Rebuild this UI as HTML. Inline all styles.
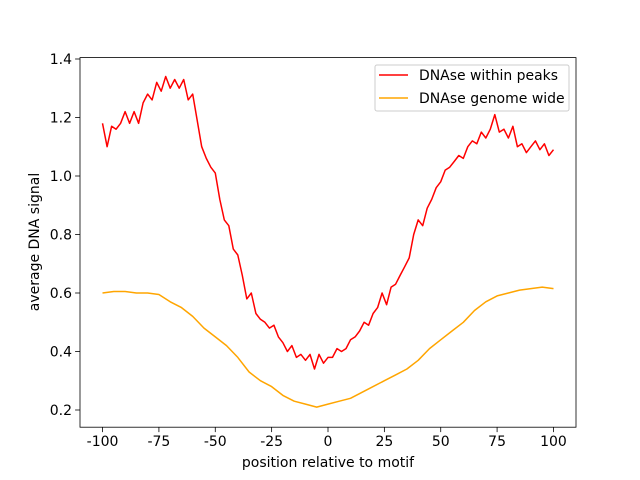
<!DOCTYPE html>
<html><head><meta charset="utf-8"><style>body{margin:0;background:#fff}svg{display:block;font-family:"DejaVu Sans","Liberation Sans",sans-serif}</style></head>
<body>
<svg id="chart" width="640" height="480" xmlns="http://www.w3.org/2000/svg"></svg>
<script>
const redX = [];for(let i=-100;i<=100;i+=2)redX.push(i);
const redValues=[1.18,1.10,1.17,1.16,1.18,1.22,1.18,1.22,1.18,1.25,1.28,1.26,1.32,1.29,1.34,1.30,1.33,1.30,1.33,1.26,1.28,1.19,1.10,1.06,1.03,1.01,0.92,0.85,0.83,0.75,0.73,0.66,0.58,0.60,0.53,0.51,0.50,0.48,0.49,0.45,0.43,0.40,0.42,0.38,0.39,0.37,0.39,0.34,0.39,0.36,0.38,0.38,0.41,0.40,0.41,0.44,0.45,0.47,0.50,0.49,0.53,0.55,0.60,0.56,0.62,0.63,0.66,0.69,0.72,0.80,0.85,0.83,0.89,0.92,0.96,0.98,1.02,1.03,1.05,1.07,1.06,1.10,1.12,1.11,1.15,1.13,1.16,1.21,1.15,1.16,1.13,1.17,1.10,1.11,1.08,1.10,1.12,1.09,1.11,1.07,1.09];
const orangeX=[];for(let i=-100;i<=100;i+=5)orangeX.push(i);
const orangeValues=[0.60,0.605,0.605,0.60,0.60,0.595,0.57,0.55,0.52,0.48,0.45,0.42,0.38,0.33,0.30,0.28,0.25,0.23,0.22,0.21,0.22,0.23,0.24,0.26,0.28,0.30,0.32,0.34,0.37,0.41,0.44,0.47,0.50,0.54,0.57,0.59,0.60,0.61,0.615,0.62,0.615];
const xTicks=[-100,-75,-50,-25,0,25,50,75,100];
const yTicks=[0.2,0.4,0.6,0.8,1.0,1.2,1.4];
const L=80,R=576,T=57.6,B=427.2;
const sx=v=>L+(v+110)/220*(R-L);
const sy=v=>59+(1.4-v)*292.5;
const svg=document.getElementById('chart');const NS='http://www.w3.org/2000/svg';
function mk(t,a,p){const e=document.createElementNS(NS,t);for(const k in a)e.setAttribute(k,a[k]);(p||svg).appendChild(e);return e;}
function line(xs,ys,color,name){const d=xs.map((x,i)=>(i?'L':'M')+sx(x).toFixed(1)+','+sy(ys[i]).toFixed(1)).join('');
const p=mk('path',{d,fill:'none',stroke:color,'stroke-width':1.5,'stroke-linejoin':'round'});

}
line(orangeX,orangeValues,'#ffa500','series-genome-wide');
line(redX,redValues,'#ff0000','series-within-peaks');
const frame=mk('rect',{x:L,y:T,width:R-L,height:B-T,fill:'none',stroke:'#000','stroke-width':0.8});


xTicks.forEach(v=>{const x=sx(v);mk('line',{x1:x,x2:x,y1:B,y2:B+4.9,stroke:'#000','stroke-width':0.8});
const t=mk('text',{x:x,y:B+19,'font-size':14,'text-anchor':'middle'});t.textContent=v;

});
yTicks.forEach(v=>{const y=sy(v);mk('line',{x1:L-4.9,x2:L,y1:y,y2:y,stroke:'#000','stroke-width':0.8});
const t=mk('text',{x:L-8,y:y+5,'font-size':14,'text-anchor':'end'});t.textContent=v.toFixed(1);

});
</script>
<svg style="position:absolute;left:0;top:0" width="640" height="480" xmlns="http://www.w3.org/2000/svg" font-family="DejaVu Sans, Liberation Sans, sans-serif">
<text x="328" y="467" font-size="14" text-anchor="middle">position relative to motif</text>
<text x="0" y="0" font-size="14" text-anchor="middle" transform="translate(39,242) rotate(-90)">average DNA signal</text>
<g>
<rect x="375" y="65" width="194" height="46" rx="2" fill="#fff" fill-opacity="0.8" stroke="#ccc"/>
<line x1="379" x2="408" y1="75" y2="75" stroke="#ff0000" stroke-width="1.5"/>
<text x="419" y="80" font-size="14" textLength="139" lengthAdjust="spacingAndGlyphs">DNAse within peaks</text>
<line x1="379" x2="408" y1="98" y2="98" stroke="#ffa500" stroke-width="1.5"/>
<text x="419" y="103" font-size="14">DNAse genome wide</text>
</g>
</svg>
</body></html>
